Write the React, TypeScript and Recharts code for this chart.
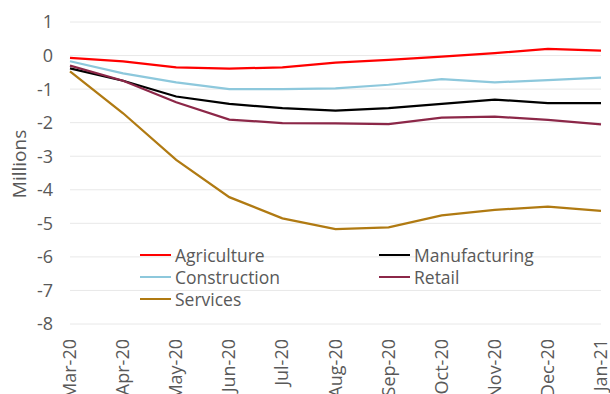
import { LineChart, Line, XAxis, YAxis, CartesianGrid } from 'recharts';

const months = ['Mar-20', 'Apr-20', 'May-20', 'Jun-20', 'Jul-20', 'Aug-20', 'Sep-20', 'Oct-20', 'Nov-20', 'Dec-20', 'Jan-21'];

const agriculture = [-0.07, -0.17, -0.35, -0.39, -0.35, -0.21, -0.13, -0.03, 0.07, 0.2, 0.15];
const manufacturing = [-0.38, -0.75, -1.22, -1.44, -1.57, -1.64, -1.57, -1.44, -1.31, -1.42, -1.42];
const construction = [-0.17, -0.53, -0.8, -1.0, -1.0, -0.98, -0.87, -0.7, -0.8, -0.73, -0.66];
const retail = [-0.3, -0.75, -1.39, -1.91, -2.01, -2.02, -2.04, -1.85, -1.82, -1.92, -2.05];
const services = [-0.47, -1.72, -3.11, -4.22, -4.85, -5.17, -5.12, -4.76, -4.6, -4.5, -4.63];

const yTicks = [1, 0, -1, -2, -3, -4, -5, -6, -7, -8];

const series = [
  { key: 'Agriculture', values: agriculture, color: '#ff0000' },
  { key: 'Manufacturing', values: manufacturing, color: '#000000' },
  { key: 'Construction', values: construction, color: '#8dc8dc' },
  { key: 'Retail', values: retail, color: '#8c2748' },
  { key: 'Services', values: services, color: '#b07a12' },
];

const data = months.map((m, i) => {
  const row: Record<string, string | number> = { month: m };
  series.forEach((s) => { row[s.key] = s.values[i]; });
  return row;
});

const FONT = '"Open Sans", "Noto Sans", sans-serif';
const TEXT = '#595959';
const TICK_FS = 18;

// x labels turned upright like the Excel original
const MonthTick = (props: any) => {
  const { x, y, payload } = props;
  return (
    <text
      x={0}
      y={0}
      transform={`translate(${x + 6},${y + 7}) rotate(-90)`}
      textAnchor="end"
      fill={TEXT}
      fontSize={TICK_FS}
      fontFamily={FONT}
    >
      {payload.value}
    </text>
  );
};

// axis title, a little above the middle of the plot like in Excel
const UnitLabel = (props: any) => {
  const { viewBox } = props;
  const cy = viewBox.y + viewBox.height / 2 - 9;
  return (
    <text
      x={0}
      y={0}
      transform={`translate(26,${cy}) rotate(-90)`}
      textAnchor="middle"
      fill={TEXT}
      fontSize={19}
      fontFamily={FONT}
    >
      Millions
    </text>
  );
};

// legend sits inside the plot, two columns, same order as the series
const LegendBox = () => (
  <div
    style={{
      position: 'absolute',
      left: 140,
      top: 244,
      display: 'grid',
      gridTemplateColumns: '239px 200px',
      fontFamily: FONT,
      fontSize: 17.5,
      color: TEXT,
    }}
  >
    {series.map((s) => (
      <div key={s.key} style={{ display: 'flex', alignItems: 'center', height: 22 }}>
        <span style={{ display: 'inline-block', width: 31, height: 2.5, background: s.color, marginRight: 4 }} />
        <span>{s.key}</span>
      </div>
    ))}
  </div>
);

export default function App() {
  return (
    <div style={{ position: 'absolute', left: 0, top: 0, width: 610, height: 394, background: '#fff', overflow: 'hidden' }}>
      <LineChart width={610} height={394} data={data} margin={{ top: 22, right: 9, left: 0, bottom: 0 }}>
        <CartesianGrid vertical={false} stroke="#e8e8e8" strokeWidth={1} />
        <XAxis
          dataKey="month"
          axisLine={false}
          tickLine={false}
          interval={0}
          height={70}
          tick={<MonthTick />}
        />
        <YAxis
          domain={[-8, 1]}
          ticks={yTicks}
          axisLine={false}
          tickLine={false}
          tickSize={0}
          tickMargin={17}
          width={70}
          tick={{ fill: TEXT, fontSize: TICK_FS, fontFamily: FONT }}
          label={<UnitLabel />}
        />
        {series.map((s) => (
          <Line
            key={s.key}
            type="linear"
            dataKey={s.key}
            stroke={s.color}
            strokeWidth={2.25}
            dot={false}
            activeDot={false}
            isAnimationActive={false}
          />
        ))}
      </LineChart>
      <LegendBox />
    </div>
  );
}
